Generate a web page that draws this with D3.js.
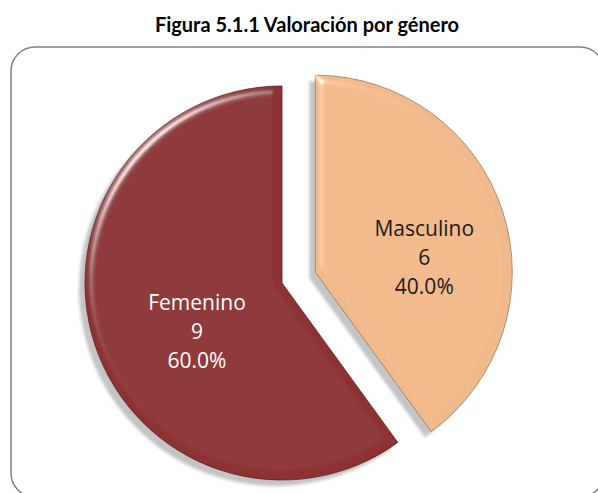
<!DOCTYPE html>
<html>
<head>
<meta charset="utf-8">
<script src="https://cdn.jsdelivr.net/npm/d3@7"></script>
<style>
  body { margin: 0; background: #fff; }
</style>
</head>
<body>
<div id="chart"></div>
<script>
// Données
const categories = ["Masculino", "Femenino"],
    counts = [6, 9],
    colors = ["#f0b98b", "#8c3030"],
    textColors = ["#1a1a1a", "#ffffff"];

const width = 598,
    height = 493,
    center = {x: 282, y: 283},
    radius = 197,
    explode = 35,      // décalage de la part "Masculino"
    labelRadius = 102,
    labelShift = [12, 17],
    lineHeight = 29;

const svg = d3.select("#chart").append("svg")
    .attr("width", width)
    .attr("height", height);

const defs = svg.append("defs");

// Biseau façon Excel : éclairage spéculaire sur les bords
const bevel = defs.append("filter")
    .attr("id", "bevel")
    .attr("x", "-10%").attr("y", "-10%")
    .attr("width", "120%").attr("height", "120%");
bevel.append("feGaussianBlur")
    .attr("in", "SourceAlpha")
    .attr("stdDeviation", 4)
    .attr("result", "blur");
bevel.append("feSpecularLighting")
    .attr("in", "blur")
    .attr("surfaceScale", 5)
    .attr("specularConstant", 1.1)
    .attr("specularExponent", 40)
    .attr("lighting-color", "#ffffff")
    .attr("result", "spec")
    .append("feDistantLight")
    .attr("azimuth", 225)
    .attr("elevation", 40);
bevel.append("feComposite")
    .attr("in", "spec")
    .attr("in2", "SourceAlpha")
    .attr("operator", "in")
    .attr("result", "specIn");
bevel.append("feComposite")
    .attr("in", "SourceGraphic")
    .attr("in2", "specIn")
    .attr("operator", "arithmetic")
    .attr("k1", 0).attr("k2", 1).attr("k3", 0.7).attr("k4", 0);

const shadow = defs.append("filter")
    .attr("id", "shadow")
    .attr("x", "-10%").attr("y", "-10%")
    .attr("width", "120%").attr("height", "120%");
shadow.append("feGaussianBlur")
    .attr("stdDeviation", 1.5);

// Titre
svg.append("text")
    .attr("x", 307)
    .attr("y", 32)
    .attr("text-anchor", "middle")
    .style("font-family", "Lato, 'Open Sans', sans-serif")
    .style("font-weight", "bold")
    .style("font-size", "20px")
    .style("fill", "#000")
    .text("Figura 5.1.1 Valoración por género");

// Cadre arrondi
svg.append("rect")
    .attr("x", 11)
    .attr("y", 47)
    .attr("width", 593)
    .attr("height", 450)
    .attr("rx", 24)
    .style("fill", "none")
    .style("stroke", "#808080")
    .style("stroke-width", 1.5);

const data = categories.map((c, i) => ({name: c, value: counts[i], color: colors[i], text: textColors[i]}));
const total = d3.sum(counts);

const pie = d3.pie()
    .sort(null)
    .value(d => d.value);

const arcs = pie(data);

const arc = d3.arc()
    .innerRadius(0)
    .outerRadius(radius);

const labelArc = d3.arc()
    .innerRadius(labelRadius)
    .outerRadius(labelRadius);

// Seule la première part est détachée
function offset(d, i) {
    if (i !== 0) return [0, 0];
    const a = (d.startAngle + d.endAngle) / 2;
    return [Math.sin(a) * explode, -Math.cos(a) * explode];
}

const g = svg.append("g")
    .attr("transform", "translate(" + center.x + "," + center.y + ")");

// Ombres
g.selectAll("path.shadow")
    .data(arcs)
    .enter().append("path")
    .attr("class", "shadow")
    .attr("d", arc)
    .attr("transform", (d, i) => {
        const o = offset(d, i);
        return "translate(" + (o[0] - 6) + "," + (o[1] + 6) + ")";
    })
    .style("fill", "#c4c4c4")
    .attr("filter", "url(#shadow)");

// Parts
g.selectAll("path.slice")
    .data(arcs)
    .enter().append("path")
    .attr("class", "slice")
    .attr("d", arc)
    .attr("transform", (d, i) => "translate(" + offset(d, i) + ")")
    .style("fill", d => d.data.color)
    .style("stroke", d => d3.color(d.data.color).darker(1.2))
    .style("stroke-width", 0.8)
    .attr("filter", "url(#bevel)");

// Etiquettes : nom, valeur, pourcentage
const labels = g.selectAll("text.label")
    .data(arcs)
    .enter().append("text")
    .attr("class", "label")
    .attr("transform", (d, i) => {
        const c = labelArc.centroid(d), o = offset(d, i);
        return "translate(" + (c[0] + o[0] + labelShift[0]) + "," + (c[1] + o[1] + labelShift[1]) + ")";
    })
    .attr("text-anchor", "middle")
    .style("font-family", "'Open Sans', sans-serif")
    .style("font-size", "21px")
    .style("fill", d => d.data.text);

labels.append("tspan")
    .attr("x", 0)
    .attr("dy", -lineHeight + 7)
    .text(d => d.data.name);
labels.append("tspan")
    .attr("x", 0)
    .attr("dy", lineHeight)
    .text(d => d.data.value);
labels.append("tspan")
    .attr("x", 0)
    .attr("dy", lineHeight)
    .text(d => d3.format(".1%")(d.data.value / total));
</script>
</body>
</html>
